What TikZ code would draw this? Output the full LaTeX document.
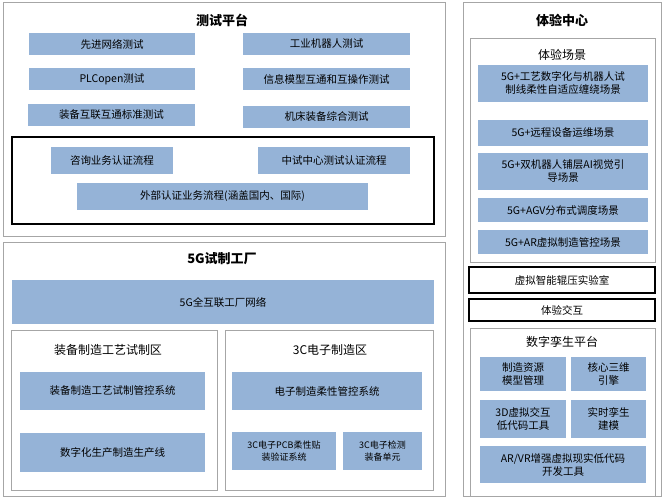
\documentclass[tikz,border=0pt]{standalone}
\usepackage{fontspec}
\setmainfont{Noto Sans CJK SC}
\newfontfamily\cjkb{Noto Sans CJK SC}[BoldFont={* Bold}]
\begin{document}
\begin{tikzpicture}[x=1pt,y=-1pt,
  panel/.style={draw=gray!70,line width=0.8pt,fill=white},
  blk/.style={draw=black,line width=1.4pt},
  bx/.style={fill=blue1,draw=white,line width=0.6pt,align=center,font=\fontsize{10.5}{13}\selectfont},
  ttl/.style={font=\fontsize{13}{15}\selectfont\bfseries},
  sub/.style={font=\fontsize{12}{14}\selectfont}]
\definecolor{blue1}{HTML}{95B3D7}
\useasboundingbox (0,0) rectangle (665,500);
\fill[white] (0,0) rectangle (665,500);
% macro for boxes
\def\B#1#2#3#4#5#6{\fill[blue1] (#2,#3) rectangle (#4,#5); \node[align=center,font=\fontsize{10.5}{13}\selectfont] (#1) at ({(#2+#4)/2},{(#3+#5)/2}) {#6};}
% panel 1
\draw[panel] (3,2) rectangle (445,236);
\node[ttl] (t1) at (222,20) {测试平台};
\B{a1}{29}{33}{195}{55}{先进网络测试}
\B{a2}{243}{33}{410}{55}{工业机器人测试}
\B{a3}{29}{68}{195}{90}{PLCopen测试}
\B{a4}{243}{68}{410}{90}{信息模型互通和互操作测试}
\B{a5}{28}{104}{195}{126}{装备互联互通标准测试}
\B{a6}{243}{106}{410}{128}{机床装备综合测试}
\draw[blk] (12,137) rectangle (434,224);
\B{a7}{51}{147}{173}{174}{咨询业务认证流程}
\B{a8}{258}{147}{410}{174}{中试中心测试认证流程}
\B{a9}{77}{183}{368}{210}{外部认证业务流程(涵盖国内、国际)}
% panel 2
\draw[panel] (3,242) rectangle (445,496);
\node[ttl] (t2) at (222,259) {5G试制工厂};
\B{b1}{12}{280}{434}{324}{5G全互联工厂网络}
\draw[panel] (11,330) rectangle (217,490);
\node[sub] (t3) at (108,350) {装备制造工艺试制区};
\B{b2}{20}{372}{205}{410}{装备制造工艺试制管控系统}
\B{b3}{20}{433}{205}{472}{数字化生产制造生产线}
\draw[panel] (225,330) rectangle (433,490);
\node[sub] (t4) at (330,350) {3C电子制造区};
\B{b4}{232}{372}{422}{410}{电子制造柔性管控系统}
\fill[blue1] (232,432) rectangle (336,470);
\node[align=center,font=\fontsize{9}{12}\selectfont] (b5) at (284,451) {3C电子PCB柔性贴\\装验证系统};
\fill[blue1] (343,432) rectangle (422,470);
\node[align=center,font=\fontsize{9}{12}\selectfont] (b6) at (382.5,451) {3C电子检测\\装备单元};
% right panel
\draw[panel] (463,2) rectangle (661,496);
\node[ttl] (t5) at (562,20) {体验中心};
\draw[panel] (470,38) rectangle (655,262);
\node[sub] (t6) at (562,55) {体验场景};
\B{c1}{478}{65}{648}{102}{5G+工艺数字化与机器人试\\制线柔性自适应缠绕场景}
\B{c2}{478}{120}{648}{146}{5G+远程设备运维场景}
\B{c3}{478}{153}{648}{190}{5G+双机器人铺层AI视觉引\\导场景}
\B{c4}{478}{198}{648}{222}{5G+AGV分布式调度场景}
\B{c5}{478}{230}{648}{254}{5G+AR虚拟制造管控场景}
\draw[blk] (469,267) rectangle (655,293);
\node[font=\fontsize{10.5}{13}\selectfont] (d1) at (562,280) {虚拟智能辊压实验室};
\draw[blk] (469,299) rectangle (655,321);
\node[font=\fontsize{10.5}{13}\selectfont] (d2) at (562,310) {体验交互};
\draw[panel] (470,328) rectangle (655,496);
\node[sub] (t7) at (562,342) {数字孪生平台};
\B{e1}{480}{357}{566}{391}{制造资源\\模型管理}
\B{e2}{571}{357}{646}{391}{核心三维\\引擎}
\B{e3}{480}{400}{566}{438}{3D虚拟交互\\低代码工具}
\B{e4}{571}{400}{646}{438}{实时孪生\\建模}
\B{e5}{480}{446}{646}{483}{AR/VR增强虚拟现实低代码\\开发工具}
\end{tikzpicture}
\end{document}
